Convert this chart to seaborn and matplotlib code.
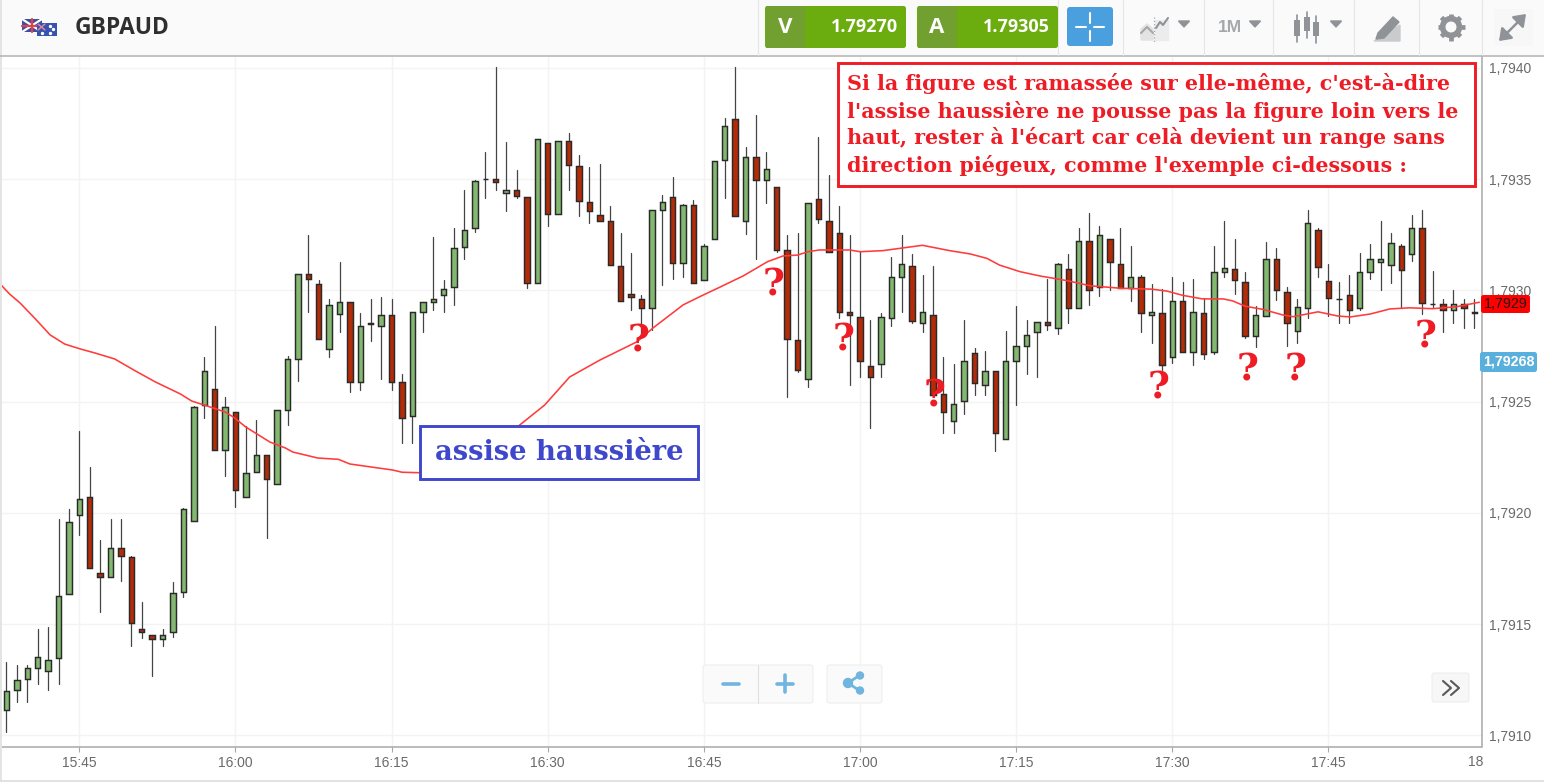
import numpy as np
import pandas as pd
import seaborn as sns
import matplotlib.pyplot as plt
from matplotlib.patches import Rectangle, FancyBboxPatch, Polygon, Circle
from matplotlib.ticker import FuncFormatter

# Candles, one a minute, minute 0 is 15:45
# Prices are in points above 1.7900 (1 point = 0.00001)
minutes = list(range(-7, 135))

highs = [132.9, 131.7, 131.7, 147.7, 148.7, 197.1, 201.6,
         236.9, 220.8, 187.8, 197.1, 197.1, 180.8, 160.1, 145.1, 147.7, 169.1,
         202.1, 248.0, 270.2, 284.0, 252.0, 245.3, 239.1, 241.8, 226.0, 246.2,
         270.6, 307.4, 324.8, 304.8, 296.0, 312.9, 294.9, 290.0, 296.0, 296.9,
         296.0, 262.6, 290.2, 294.9, 324.1, 304.8, 327.9, 345.1, 349.6, 362.1,
         400.3, 366.8, 354.0, 342.0, 368.0, 366.1, 367.1, 370.7, 361.0, 355.6,
         356.7, 338.1, 325.7, 316.7, 297.9, 336.1, 342.9, 350.8, 339.0, 340.8,
         321.0, 358.0, 377.6, 400.5, 364.6, 378.7, 362.1, 346.3, 324.8, 325.7,
         339.3, 369.1, 351.9, 338.1, 324.8, 317.6, 286.7, 290.0, 315.1, 324.8,
         316.2, 307.0, 310.8, 270.2, 266.9, 286.7, 274.0, 272.9, 263.9, 281.9,
         293.1, 286.7, 285.9, 305.0, 312.2, 316.2, 328.0, 334.9, 329.1, 323.2,
         328.0, 319.9, 307.0, 302.7, 300.6, 306.0, 303.9, 305.0, 296.4, 319.9,
         331.0, 323.1, 308.1, 293.1, 321.9, 318.9, 301.7, 296.0, 336.1, 327.9,
         311.9, 303.9, 307.0, 316.7, 321.0, 331.2, 325.8, 321.0, 333.9, 336.1,
         308.7, 296.0, 300.2, 296.0, 296.0]

opens = [111.4, 120.6, 125.4, 130.2, 129.1, 134.7, 163.4,
         199.1, 207.1, 173.0, 171.3, 184.2, 180.0, 147.8, 145.1, 143.5, 146.3,
         164.3, 196.5, 248.5, 255.8, 228.1, 245.2, 207.3, 218.5, 226.0, 213.1,
         246.2, 269.3, 307.3, 302.9, 273.5, 289.4, 294.9, 259.0, 285.0, 284.1,
         288.9, 259.0, 243.5, 290.2, 294.9, 298.1, 301.4, 319.5, 328.0, 349.9,
         350.1, 343.9, 345.1, 342.0, 303.5, 366.1, 334.5, 367.1, 355.9, 339.9,
         333.9, 331.2, 311.0, 298.2, 296.1, 292.2, 336.0, 342.0, 312.4, 338.2,
         304.5, 323.1, 358.5, 377.2, 331.3, 360.1, 349.5, 346.3, 318.0, 277.7,
         260.2, 340.9, 331.3, 325.9, 290.3, 288.0, 266.0, 267.1, 287.5, 306.0,
         311.0, 285.2, 288.9, 253.3, 241.4, 250.4, 271.9, 257.3, 263.9, 233.3,
         268.1, 275.1, 281.4, 285.9, 283.1, 309.7, 292.2, 322.2, 301.4, 323.2,
         312.0, 301.2, 306.2, 288.8, 290.0, 270.2, 295.4, 272.3, 290.0, 272.3,
         308.3, 309.7, 303.9, 279.4, 288.5, 314.1, 299.1, 281.9, 292.2, 327.0,
         304.1, 296.0, 298.1, 292.0, 308.3, 312.9, 311.4, 319.9, 316.2, 328.0,
         293.7, 293.7, 291.2, 293.9, 290.0]

closes = [120.1, 125.0, 130.2, 135.1, 134.0, 162.8, 195.9,
          206.1, 175.2, 171.3, 184.2, 180.5, 150.7, 146.3, 143.5, 145.1, 163.9,
          201.9, 247.7, 263.9, 228.1, 247.7, 210.4, 217.8, 225.9, 215.4, 246.2,
          269.3, 307.3, 305.0, 278.3, 293.3, 294.9, 259.0, 284.1, 285.3, 288.9,
          259.0, 242.5, 290.2, 294.9, 296.0, 300.8, 318.9, 327.0, 349.0, 350.1,
          348.7, 345.2, 342.4, 303.5, 368.0, 334.5, 367.1, 356.3, 340.3, 335.5,
          331.2, 311.5, 295.4, 297.0, 292.2, 336.1, 339.9, 312.4, 338.2, 303.5,
          320.1, 358.0, 374.0, 333.4, 360.1, 349.5, 354.7, 318.3, 278.3, 264.4,
          339.3, 332.2, 317.3, 290.2, 288.9, 268.1, 261.2, 288.0, 306.2, 312.0,
          286.2, 290.2, 253.0, 245.2, 248.9, 268.1, 258.5, 263.9, 236.0, 268.1,
          275.1, 280.0, 285.8, 284.6, 312.0, 292.2, 322.2, 300.2, 324.9, 312.6,
          301.2, 306.2, 290.0, 290.2, 266.6, 295.4, 272.4, 290.2, 271.4, 308.4,
          309.9, 304.7, 279.4, 288.9, 314.1, 300.2, 285.2, 292.4, 330.1, 310.4,
          296.4, 296.2, 291.1, 308.3, 314.1, 314.2, 321.2, 309.3, 328.0, 294.3,
          294.0, 291.2, 293.9, 292.2, 290.2]

lows = [101.4, 115.2, 115.2, 123.3, 120.6, 123.3, 163.4,
        190.1, 175.2, 155.3, 171.3, 169.3, 140.3, 143.6, 126.6, 140.3, 144.2,
        162.3, 196.5, 242.5, 228.1, 216.6, 202.5, 207.3, 218.5, 188.7, 213.1,
        239.4, 259.1, 290.2, 278.3, 270.2, 281.4, 254.2, 255.2, 277.3, 260.2,
        255.2, 231.3, 231.3, 281.4, 291.2, 290.2, 293.3, 314.1, 326.4, 341.4,
        345.1, 335.5, 341.4, 301.2, 303.5, 329.1, 334.5, 345.1, 333.4, 330.1,
        331.2, 311.5, 295.4, 291.2, 279.2, 282.2, 302.4, 305.1, 306.2, 303.5,
        304.5, 323.1, 341.4, 333.4, 325.3, 314.1, 339.3, 317.4, 252.2, 263.5,
        256.5, 330.1, 317.3, 287.5, 257.5, 261.2, 238.3, 261.2, 284.1, 290.2,
        285.2, 281.4, 253.0, 235.8, 236.0, 244.3, 253.1, 253.1, 228.0, 233.3,
        248.5, 262.3, 261.2, 282.2, 280.4, 285.2, 292.2, 293.3, 297.5, 300.2,
        301.2, 295.4, 281.4, 276.2, 264.2, 267.2, 272.4, 266.5, 269.2, 271.4,
        306.2, 298.2, 278.5, 274.7, 288.5, 295.7, 275.1, 276.2, 287.5, 306.2,
        288.5, 285.3, 285.3, 291.1, 305.0, 300.2, 303.5, 292.0, 313.1, 289.5,
        292.0, 281.4, 285.3, 283.1, 283.1]

# Moving average, read at these minutes
ma_minutes = [-7.6, -6.7, -5.7, -4.3, -2.8, -1.4, 0.1, 1.5, 3.4, 5.4, 7.3, 9.7,
              10.8, 12.0, 14.0, 14.8, 16.0, 18.3, 19.8, 20.5, 22.9, 24.9, 26.0,
              30.1, 31.0, 32.7, 34.6, 37.5, 40.4, 42.3, 44.7, 47.1, 50.0, 53.6,
              55.1, 58.0, 59.6, 61.5, 63.8, 66.1, 67.6, 69.0, 70.0, 71.1, 74.0,
              75.0, 77.2, 81.0, 83.6, 85.6, 87.2, 88.4, 90.4, 92.3, 94.9, 97.1,
              100.0, 103.0, 104.5, 106.0, 107.9, 109.9, 110.8, 112.0, 113.7,
              115.6, 116.6, 119.0, 120.9, 122.1, 124.0, 125.9, 127.8, 130.0,
              132.3, 134.5]
ma_points = [302.9, 298.4, 294.4, 287.6, 280.0, 275.9, 273.7, 271.9, 269.2, 263.8,
             258.9, 253.5, 250.3, 248.5, 245.4, 243.1, 238.6, 231.9, 229.2, 227.4,
             224.7, 224.1, 222.0, 219.3, 218.3, 218.1, 219.3, 226.0, 232.8, 239.5,
             248.5, 261.1, 268.7, 277.0, 283.1, 293.5, 297.2, 301.4, 306.6, 312.9,
             315.5, 315.9, 317.4, 318.2, 318.2, 317.4, 317.9, 320.3, 317.9, 316.4,
             314.4, 311.4, 308.4, 306.5, 304.4, 302.1, 301.0, 300.6, 299.7, 297.8,
             296.2, 296.2, 295.3, 292.9, 291.5, 289.0, 288.2, 290.4, 288.5, 288.1,
             289.4, 291.7, 292.2, 291.8, 292.7, 294.7]

tick_minutes = [0, 15, 30, 45, 60, 75, 90, 105, 120]
tick_times = ["15:45", "16:00", "16:15", "16:30", "16:45", "17:00", "17:15", "17:30", "17:45"]
tick_prices = [1.7910, 1.7915, 1.7920, 1.7925, 1.7930, 1.7935, 1.7940]

note_lines = ["Si la figure est ramassée sur elle-même, c'est-à-dire",
              "l'assise haussière ne pousse pas la figure loin vers le",
              "haut, rester à l'écart car celà devient un range sans",
              "direction piégeux, comme l'exemple ci-dessous :"]
question_xy = [(639, 341), (774, 285), (844, 340), (935, 396),
               (1159, 388), (1248, 370), (1296, 370), (1426, 337)]


def to_price(points):
    return 1.79 + np.array(points) / 1e5


RED_TXT = "#ee1c25"
BLUE_TXT = "#3f48cc"
GREY = "#8f9296"

sns.set_theme(style="white")
plt.rcParams["font.family"] = ["Liberation Sans", "DejaVu Sans"]

candles = pd.DataFrame({"minute": minutes, "open": to_price(opens), "close": to_price(closes),
                        "high": to_price(highs), "low": to_price(lows)})
wicks = candles.melt(id_vars="minute", value_vars=["low", "high"], value_name="price")
ma = pd.DataFrame({"minute": ma_minutes, "price": to_price(ma_points)})

fig = plt.figure(figsize=(15.44, 7.82), dpi=100, facecolor="white")
ax = fig.add_axes([0, 1 - 746.7 / 782, 1481.5 / 1544, (746.7 - 55.5) / 782])

# wicks, bodies, average
sns.lineplot(data=wicks, x="minute", y="price", units="minute", estimator=None,
             color="#444444", linewidth=0.9, legend=False, ax=ax, zorder=2)
colors = np.where(candles["close"] >= candles["open"], "#82b870", "#b32b07")
ax.bar(candles["minute"], candles["close"] - candles["open"], bottom=candles["open"],
       width=0.52, color=colors, edgecolor="#2a2a2a", linewidth=1.05, zorder=3)
sns.lineplot(data=ma, x="minute", y="price", estimator=None, sort=False,
             color="#ff3b3b", linewidth=1.15, ax=ax, zorder=4)

ax.set_xlim(-7.62, 134.7)
ax.set_ylim(1.79 + 94.96 / 1e5, 1.79 + 405.59 / 1e5)
ax.set_xticks(tick_minutes, tick_times)
ax.set_yticks(tick_prices)
ax.yaxis.tick_right()
ax.yaxis.set_major_formatter(FuncFormatter(lambda v, pos: f"{v:.4f}".replace(".", ",")))
ax.set_xlabel("")
ax.set_ylabel("")
ax.grid(color="#f3f3f3", linewidth=1)
ax.set_axisbelow(True)
ax.tick_params(axis="both", length=3.5, width=0.8, color="#a8a8a8", labelcolor="#6a6a6a",
               labelsize=10, pad=3.5, bottom=True, right=True, left=False)
ax.tick_params(axis="y", pad=2)
sns.despine(ax=ax, left=True, top=True, right=False, bottom=False)
for side in ["right", "bottom"]:
    ax.spines[side].set_color("#a8a8a8")
    ax.spines[side].set_linewidth(1.1)
ax.text(133.45, -0.0125, "18", transform=ax.get_xaxis_transform(), color="#6a6a6a",
        fontsize=10, va="top", ha="left")

# everything around the chart, in pixels of the screenshot
ui = fig.add_axes([0, 0, 1, 1], facecolor="none")
ui.set_xlim(0, 1544)
ui.set_ylim(782, 0)
ui.axis("off")


def box(x0, y0, x1, y1, color, z=5, **kw):
    ui.add_patch(Rectangle((x0, y0), x1 - x0, y1 - y0, facecolor=color, edgecolor="none", zorder=z, **kw))


def rounded(x0, y0, x1, y1, color, edge="none", r=2.5, z=5):
    ui.add_patch(FancyBboxPatch((x0 + r, y0 + r), x1 - x0 - 2 * r, y1 - y0 - 2 * r,
                                boxstyle=f"round,pad={r},rounding_size={r}", facecolor=color,
                                edgecolor=edge, linewidth=0.8, zorder=z))


# header
box(0, 0, 1544, 55, "#fafafa", z=1)
ui.plot([0, 1544], [55.5, 55.5], color="#b2b2b2", lw=1.1, zorder=2)
box(0, 0, 2, 782, "#e4e4e4", z=1)
ui.plot([0, 1544], [781, 781], color="#dddddd", lw=1.2, zorder=2)
for sep in [758, 1058, 1123, 1204, 1273, 1354, 1419, 1482]:
    ui.plot([sep, sep], [0, 55], color="#e6e6e6", lw=0.8, zorder=2)

# flags
box(22, 19, 42, 32, "#3d4fa0")
ui.plot([22, 42], [19, 32], color="white", lw=1.6, zorder=6)
ui.plot([22, 42], [32, 19], color="white", lw=1.6, zorder=6)
ui.plot([22, 42], [25.5, 25.5], color="#e0404a", lw=1.6, zorder=6)
ui.plot([32, 32], [19, 32], color="#e0404a", lw=1.6, zorder=6)
box(37, 23, 57, 36, "#3553b0", z=7)
ui.plot([38, 45], [24, 30], color="#e88a9a", lw=1, zorder=8)
ui.plot([38, 45], [30, 24], color="#e88a9a", lw=1, zorder=8)
ui.scatter([42, 50, 53, 50], [33, 26, 29, 33], s=2, color="white", zorder=8)
ui.text(75, 27.5, "GBPAUD", family="Open Sans", weight="bold", fontsize=16.4, color="#2f2f2f",
        va="center", ha="left", zorder=6)

# bid and ask buttons
for x0, xm, x1, letter, quote in [(765, 805, 906, "V", "1.79270"), (917, 957, 1058, "A", "1.79305")]:
    rounded(x0, 6, x1, 48, "#6bad0e")
    box(x0 + 1, 6, xm, 48, "#71a030", z=6)
    ui.text((x0 + xm) / 2, 27.5, letter, family="Open Sans", weight="bold", fontsize=16, color="white",
            ha="center", va="center", zorder=7)
    ui.text(x1 - 8, 26.5, quote, family="Open Sans", weight="bold", fontsize=13, color="white",
            ha="right", va="center", zorder=7)

rounded(1067, 7, 1113, 46, "#4a9fdf", r=3)
for xs, ys in [([1076, 1086], [27, 27]), ([1094, 1104], [27, 27]), ([1090, 1090], [13, 23]), ([1090, 1090], [31, 41])]:
    ui.plot(xs, ys, color="white", lw=1.5, zorder=7)

# toolbar icons
ui.add_patch(Polygon([(1141, 40), (1141, 29), (1147, 24), (1153, 29), (1153, 40)], color="#e3e3e3", zorder=5))
ui.add_patch(Polygon([(1155, 40), (1155, 20), (1168, 20), (1168, 40)], color="#ececec", zorder=5))
ui.plot([1141, 1147, 1153], [33, 27, 33], color="#a5a8ab", lw=1.5, zorder=6)
ui.plot([1156, 1160, 1163, 1168], [28, 22, 25, 18], color="#8f9296", lw=1.5, zorder=6)
ui.plot([1154, 1154], [17, 42], color="#a5a8ab", lw=0.9, ls=":", zorder=6)
ui.text(1230, 27.5, "1M", weight="bold", fontsize=12.5, color="#a5a8ab", ha="center", va="center", zorder=6)
for cx, cy0, cy1, y0, y1 in [(1297, 20, 36, 15, 42), (1306.5, 17, 31, 12, 38), (1316, 22, 36, 16, 43)]:
    ui.plot([cx, cx], [y0, y1], color=GREY, lw=1.2, zorder=5)
    box(cx - 3, cy0, cx + 3, cy1, GREY, z=6)
for tx in [1184, 1255, 1336]:
    ui.add_patch(Polygon([(tx - 5.5, 21), (tx + 5.5, 21), (tx, 27)], color=GREY, zorder=6))
ui.add_patch(Polygon([(1378, 33), (1393, 17), (1399, 22), (1384, 38), (1376, 39)], color=GREY, zorder=6))
ui.add_patch(Polygon([(1374, 41), (1400, 25), (1400, 41)], color="#c9cbcd", zorder=5))
# gear
for angle in np.deg2rad(np.arange(0, 360, 45)):
    ui.plot([1451, 1451 + 13.5 * np.cos(angle)], [27, 27 + 13.5 * np.sin(angle)], color=GREY, lw=3.4,
            solid_capstyle="butt", zorder=6)
ui.add_patch(Circle((1451, 27), 10.5, color=GREY, zorder=6))
ui.add_patch(Circle((1451, 27), 4.8, color="#fafafa", zorder=7))
box(1494, 9, 1533, 46, "#f7f7f7", z=3)
for a, b in [((1513, 27), (1526, 14)), ((1512, 28), (1499, 41))]:
    ui.annotate("", xy=b, xytext=a, arrowprops=dict(arrowstyle="-|>,head_width=0.4,head_length=0.55",
                                                    color=GREY, lw=1.8, shrinkA=0, shrinkB=0), zorder=6)

# note boxes
ui.add_patch(Rectangle((837.5, 62.5), 637, 123, facecolor="white", edgecolor=RED_TXT, linewidth=2.1, zorder=8))
for line, y in zip(note_lines, [83, 111, 138, 165]):
    ui.text(847, y, line, family="DejaVu Serif", weight="bold", fontsize=14.9, color=RED_TXT,
            va="center", ha="left", zorder=9)
ui.add_patch(Rectangle((419.5, 425.5), 278, 53, facecolor="white", edgecolor=BLUE_TXT, linewidth=2.1, zorder=8))
ui.text(559, 452, "assise haussière", family="DejaVu Serif", weight="bold", fontsize=19.7, color=BLUE_TXT,
        va="center", ha="center", zorder=9)
for qx, qy in question_xy:
    ui.text(qx, qy, "?", family="DejaVu Serif", weight="bold", fontsize=27, color=RED_TXT,
            va="center", ha="center", zorder=9)

# price tags
rounded(1481, 295, 1530, 313, "#ff0000", z=9)
ui.text(1506, 304.5, "1,7929", fontsize=10.3, color="#2a1010", ha="center", va="center", zorder=10)
rounded(1480, 352, 1537, 372, "#5ab0dc", z=9)
ui.text(1508.5, 362, "1,79268", fontsize=10.3, weight="bold", color="white", ha="center", va="center", zorder=10)

# zoom and share buttons
rounded(703, 665, 813, 703, "#fafafa", edge="#eeeeee")
rounded(827, 665, 882, 703, "#fafafa", edge="#eeeeee")
ui.plot([757.5, 757.5], [665, 703], color="#dfdfdf", lw=0.8, zorder=6)
ui.plot([723, 739], [683.5, 683.5], color="#6fb5e0", lw=2.6, zorder=6)
ui.plot([777, 793], [683.5, 683.5], color="#6fb5e0", lw=2.6, zorder=6)
ui.plot([785, 785], [675, 692], color="#6fb5e0", lw=2.6, zorder=6)
ui.plot([860, 848, 860], [675, 683, 691], color="#6fb5e0", lw=2, zorder=6)
for cx, cy, r in [(860, 675.5, 3.5), (848, 683, 4.5), (860, 690.5, 3.5)]:
    ui.add_patch(Circle((cx, cy), r, color="#6fb5e0", zorder=6))
rounded(1432, 673, 1469, 702, "#f7f7f7", edge="#eeeeee")
for dx in [0, 8]:
    ui.plot([1443 + dx, 1451 + dx, 1443 + dx], [681, 688, 695], color="#5a5a5a", lw=1.5, zorder=6)

plt.savefig("out.png", dpi=100)
